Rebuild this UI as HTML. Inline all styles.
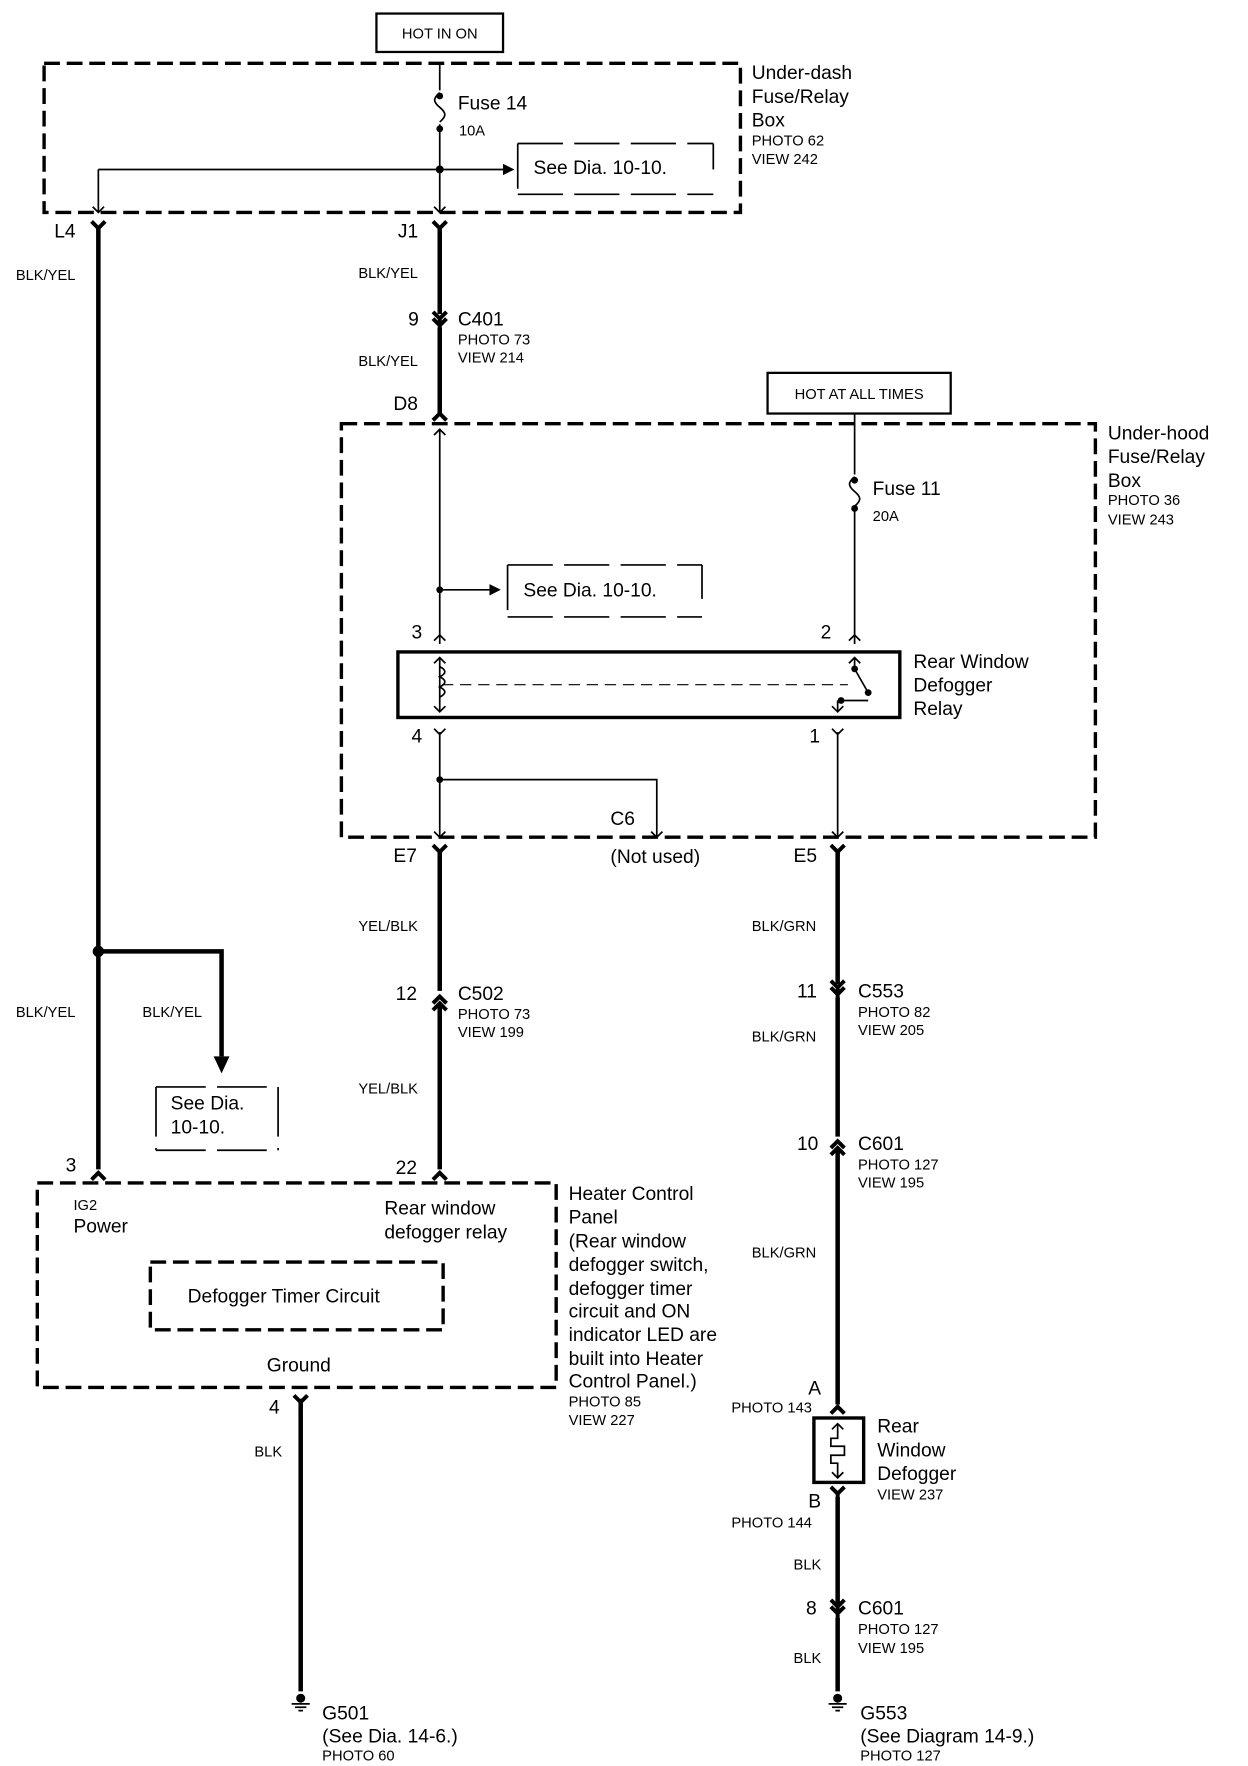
<!DOCTYPE html>
<html><head><meta charset="utf-8"><style>
html,body{margin:0;padding:0;background:#fff}
svg{display:block}
text{font-family:"Liberation Sans",sans-serif;fill:#000}
.b{font-size:17px}.s{font-size:13px}
</style></head><body>
<svg width="1248" height="1766" viewBox="0 0 1104 1563" preserveAspectRatio="none" xmlns="http://www.w3.org/2000/svg">
<defs>
<g id="fy"><path d="M-6,-6 L0,0 L6,-6 M0,0 L0,6" stroke="#000" stroke-width="3.5" fill="none"/></g>
<g id="fm"><path d="M-6,6 L0,0 L6,6" stroke="#000" stroke-width="3.5" fill="none"/></g>
<g id="ty"><path d="M-5,-5 L0,0 L5,-5" stroke="#000" stroke-width="1.5" fill="none"/></g>
<g id="tm"><path d="M-5,5 L0,0 L5,5" stroke="#000" stroke-width="1.5" fill="none"/></g>
<g id="gnd"><circle cx="0" cy="0" r="4" fill="#000"/><path d="M-8,5 H8 M-5,8 H5 M-2,11 H2" stroke="#000" stroke-width="1.5"/></g>
</defs>
<g fill="none" stroke="#000">
<rect x="333" y="12" width="112" height="34" stroke-width="2"/>
<rect x="39" y="56" width="616" height="132" stroke-width="3" stroke-dasharray="14 6"/>
<path d="M389,56 V80 M389,110 V188" stroke-width="1.5"/>
<path d="M389,82 c-6,5 -6,8 0,13 c6,5 6,8 0,13" stroke-width="1.5"/>
<path d="M87,150 H389 H445 M87,150 V188" stroke-width="1.5"/>
<path d="M458,127 H631 M458,127 V172 M631,127 V150 M458,172 H631" stroke-width="1.5" stroke-dasharray="40 10"/>
<path d="M87,200 V1035" stroke-width="4"/>
<path d="M87,842 H196 V935" stroke-width="4"/>
<path d="M389,200 V278 M389,290 V368" stroke-width="4"/>
<path d="M138,962 H246 M138,962 V1018 M246,962 V1018 M138,1018 H246" stroke-width="1.5" stroke-dasharray="44 10"/>
<rect x="679" y="330" width="162" height="36" stroke-width="2"/>
<rect x="302" y="375" width="667" height="366" stroke-width="3" stroke-dasharray="14 6"/>
<path d="M389,380 V570 M389,648 V741" stroke-width="1.5"/>
<path d="M756,366 V420 M756,450 V570 M741,648 V741" stroke-width="1.5"/>
<path d="M756,422 c-6,5 -6,8 0,13 c6,5 6,8 0,13" stroke-width="1.5"/>
<path d="M389,522 H436" stroke-width="1.5"/>
<path d="M449,500 H621 M449,500 V546 M621,500 V530 M449,546 H621" stroke-width="1.5" stroke-dasharray="40 10"/>
<rect x="352" y="577" width="444" height="58" stroke-width="3"/>
<path d="M389,583 V630 M756,583 V592 M741,620 V630" stroke-width="1.5"/>
<path d="M389,590 c6,3 6,6 0,9 c6,3 6,6 0,9 c6,3 6,6 0,9" stroke-width="1.5"/>
<path d="M391,606 H750" stroke-width="1" stroke-dasharray="10 6"/>
<path d="M756,592 L768,613 M744,620 H768" stroke-width="1.5"/>
<path d="M389,690 H581 V741" stroke-width="1.5"/>
<path d="M389,752 V877 M389,889 V1035" stroke-width="4"/>
<path d="M741,752 V871 M741,883 V1006 M741,1018 V1243 M741,1325 V1420 M741,1432 V1497" stroke-width="4"/>
<rect x="720" y="1255" width="44" height="57" stroke-width="3"/>
<path d="M741,1260 V1273 H735 V1280 H747 V1288 H735 V1295 H741 V1308" stroke-width="1.5"/>
<rect x="33" y="1047" width="459" height="181" stroke-width="3" stroke-dasharray="14 6"/>
<rect x="133" y="1117" width="259" height="60" stroke-width="3" stroke-dasharray="14 6"/>
<path d="M266,1238 V1497" stroke-width="4"/>
</g>
<g fill="#000">
<circle cx="389" cy="150" r="3.5"/><circle cx="389" cy="85" r="3"/><circle cx="389" cy="114" r="3"/>
<path d="M445,145 L455,150 L445,155Z"/>
<circle cx="87" cy="842" r="5"/>
<path d="M189,935 L203,935 L196,950Z"/>
<circle cx="389" cy="522" r="3"/><path d="M433,517 L443,522 L433,527Z"/>
<circle cx="756" cy="425" r="3"/><circle cx="756" cy="450" r="3"/>
<circle cx="756" cy="592" r="3"/><circle cx="768" cy="613" r="3"/><circle cx="744" cy="620" r="3"/>
<circle cx="389" cy="690" r="3"/>
</g>
<use href="#ty" x="87" y="188"/><use href="#ty" x="389" y="188"/>
<use href="#fy" x="87" y="202"/><use href="#fy" x="389" y="202"/>
<use href="#fy" x="389" y="282"/><use href="#fy" x="389" y="288"/>
<use href="#fm" x="389" y="366"/><use href="#tm" x="389" y="380"/>
<use href="#tm" x="389" y="562"/><use href="#tm" x="756" y="562"/>
<use href="#tm" x="389" y="582"/><use href="#tm" x="756" y="582"/>
<use href="#ty" x="389" y="630"/><use href="#ty" x="741" y="630"/>
<use href="#ty" x="389" y="650"/><use href="#ty" x="741" y="650"/>
<use href="#ty" x="389" y="741"/><use href="#ty" x="581" y="741"/><use href="#ty" x="741" y="741"/>
<use href="#fy" x="389" y="754"/><use href="#fy" x="741" y="754"/>
<use href="#fm" x="389" y="882"/><use href="#fm" x="389" y="888"/>
<use href="#fy" x="741" y="874"/><use href="#fy" x="741" y="880"/>
<use href="#fm" x="741" y="1010"/><use href="#fm" x="741" y="1016"/>
<use href="#fm" x="87" y="1038"/><use href="#fm" x="389" y="1038"/>
<use href="#fy" x="266" y="1241"/>
<use href="#fm" x="741" y="1245"/><use href="#fy" x="741" y="1322"/>
<use href="#tm" x="741" y="1260"/><use href="#ty" x="741" y="1308"/>
<use href="#fy" x="741" y="1422"/><use href="#fy" x="741" y="1428"/>
<use href="#gnd" x="266" y="1503"/><use href="#gnd" x="741" y="1503"/>
<text x="389" y="34" class="s" text-anchor="middle">HOT IN ON</text>
<text x="405" y="97" class="b">Fuse 14</text><text x="406" y="120" class="s">10A</text>
<text x="472" y="154" class="b">See Dia. 10-10.</text>
<text x="665" y="70" class="b">Under-dash</text><text x="665" y="91" class="b">Fuse/Relay</text><text x="665" y="112" class="b">Box</text>
<text x="665" y="129" class="s">PHOTO 62</text><text x="665" y="145" class="s">VIEW 242</text>
<text x="48" y="210" class="b">L4</text><text x="352" y="210" class="b">J1</text>
<text x="14" y="248" class="s">BLK/YEL</text><text x="317" y="246" class="s">BLK/YEL</text>
<text x="361" y="288" class="b">9</text><text x="405" y="288" class="b">C401</text>
<text x="405" y="305" class="s">PHOTO 73</text><text x="405" y="321" class="s">VIEW 214</text>
<text x="317" y="324" class="s">BLK/YEL</text>
<text x="348" y="363" class="b">D8</text>
<text x="760" y="353" class="s" text-anchor="middle">HOT AT ALL TIMES</text>
<text x="980" y="389" class="b">Under-hood</text><text x="980" y="410" class="b">Fuse/Relay</text><text x="980" y="431" class="b">Box</text>
<text x="980" y="447" class="s">PHOTO 36</text><text x="980" y="464" class="s">VIEW 243</text>
<text x="772" y="438" class="b">Fuse 11</text><text x="772" y="461" class="s">20A</text>
<text x="463" y="528" class="b">See Dia. 10-10.</text>
<text x="364" y="565" class="b">3</text><text x="726" y="565" class="b">2</text>
<text x="808" y="591" class="b">Rear Window</text><text x="808" y="612" class="b">Defogger</text><text x="808" y="633" class="b">Relay</text>
<text x="364" y="657" class="b">4</text><text x="716" y="657" class="b">1</text>
<text x="540" y="730" class="b">C6</text><text x="540" y="764" class="b">(Not used)</text>
<text x="348" y="763" class="b">E7</text><text x="702" y="763" class="b">E5</text>
<text x="317" y="824" class="s">YEL/BLK</text><text x="665" y="824" class="s">BLK/GRN</text>
<text x="350" y="885" class="b">12</text><text x="405" y="885" class="b">C502</text>
<text x="405" y="902" class="s">PHOTO 73</text><text x="405" y="918" class="s">VIEW 199</text>
<text x="14" y="900" class="s">BLK/YEL</text><text x="126" y="900" class="s">BLK/YEL</text>
<text x="705" y="883" class="b">11</text><text x="759" y="883" class="b">C553</text>
<text x="759" y="900" class="s">PHOTO 82</text><text x="759" y="916" class="s">VIEW 205</text>
<text x="665" y="922" class="s">BLK/GRN</text>
<text x="151" y="982" class="b">See Dia.</text><text x="151" y="1003" class="b">10-10.</text>
<text x="317" y="968" class="s">YEL/BLK</text>
<text x="705" y="1018" class="b">10</text><text x="759" y="1018" class="b">C601</text>
<text x="759" y="1035" class="s">PHOTO 127</text><text x="759" y="1051" class="s">VIEW 195</text>
<text x="58" y="1037" class="b">3</text><text x="350" y="1039" class="b">22</text>
<text x="65" y="1071" class="s">IG2</text><text x="65" y="1091" class="b">Power</text>
<text x="340" y="1075" class="b">Rear window</text><text x="340" y="1096" class="b">defogger relay</text>
<text x="166" y="1153" class="b">Defogger Timer Circuit</text>
<text x="236" y="1214" class="b">Ground</text>
<text x="503" y="1062" class="b">Heater Control</text><text x="503" y="1083" class="b">Panel</text>
<text x="503" y="1104" class="b">(Rear window</text><text x="503" y="1125" class="b">defogger switch,</text>
<text x="503" y="1146" class="b">defogger timer</text><text x="503" y="1166" class="b">circuit and ON</text>
<text x="503" y="1187" class="b">indicator LED are</text><text x="503" y="1208" class="b">built into Heater</text>
<text x="503" y="1228" class="b">Control Panel.)</text>
<text x="503" y="1245" class="s">PHOTO 85</text><text x="503" y="1261" class="s">VIEW 227</text>
<text x="665" y="1113" class="s">BLK/GRN</text>
<text x="715" y="1234" class="b">A</text><text x="647" y="1250" class="s">PHOTO 143</text>
<text x="776" y="1268" class="b">Rear</text><text x="776" y="1289" class="b">Window</text><text x="776" y="1310" class="b">Defogger</text>
<text x="776" y="1327" class="s">VIEW 237</text>
<text x="715" y="1334" class="b">B</text><text x="647" y="1352" class="s">PHOTO 144</text>
<text x="238" y="1251" class="b">4</text><text x="225" y="1289" class="s">BLK</text>
<text x="702" y="1389" class="s">BLK</text>
<text x="713" y="1429" class="b">8</text><text x="759" y="1429" class="b">C601</text>
<text x="759" y="1446" class="s">PHOTO 127</text><text x="759" y="1463" class="s">VIEW 195</text>
<text x="702" y="1472" class="s">BLK</text>
<text x="285" y="1522" class="b">G501</text><text x="285" y="1542" class="b">(See Dia. 14-6.)</text><text x="285" y="1558" class="s">PHOTO 60</text>
<text x="761" y="1522" class="b">G553</text><text x="761" y="1542" class="b">(See Diagram 14-9.)</text><text x="761" y="1558" class="s">PHOTO 127</text>
</svg>
</body></html>
